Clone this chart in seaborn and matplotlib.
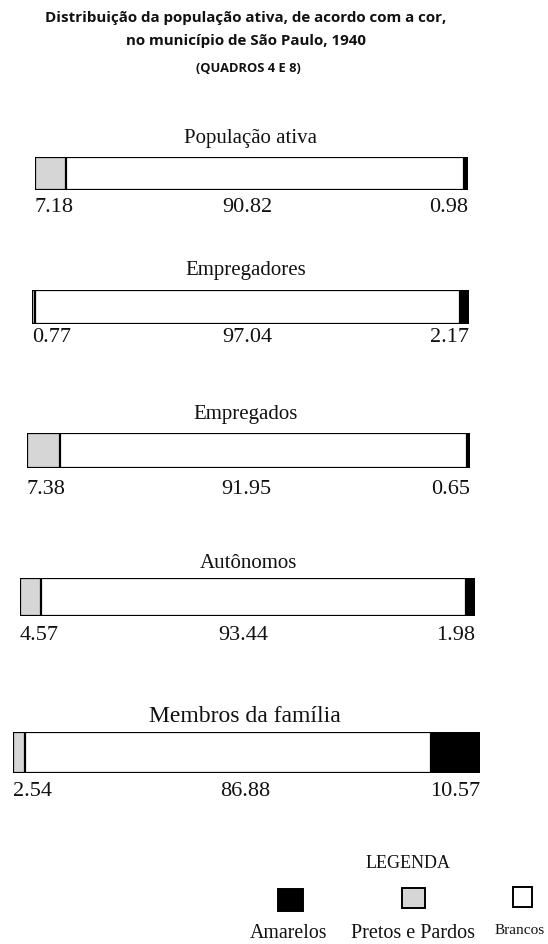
import matplotlib
matplotlib.use("Agg")
import matplotlib.pyplot as plt
import seaborn as sns
import pandas as pd
from matplotlib.patches import Rectangle

sns.set_theme(style="white")
plt.rcParams['font.family'] = ['Liberation Serif', 'DejaVu Serif']

# ---- data ----
categorias = ["População ativa", "Empregadores", "Empregados", "Autônomos", "Membros da família"]
pretos_pardos = [7.18, 0.77, 7.38, 4.57, 2.54]
brancos = [90.82, 97.04, 91.95, 93.44, 86.88]
amarelos = [0.98, 2.17, 0.65, 1.98, 10.57]
legenda = ["Amarelos", "Pretos e Pardos", "Brancos"]

W, H = 548, 944
fig = plt.figure(figsize=(W / 100, H / 100), dpi=100)
fig.patch.set_facecolor("white")

def px_rect(x0, y0, x1, y1):
    return [x0 / W, 1 - y1 / H, (x1 - x0) / W, (y1 - y0) / H]

# bar boxes in pixels (x0, y0, x1, y1)
boxes = [(35, 157, 468, 190), (32, 290, 469, 324), (27, 433, 470, 468),
         (20, 578, 475, 616), (13, 732, 480, 773)]
title_y = [138, 270, 415, 564, 716]
title_x = [250, 246, 246, 248, 245]
title_fs = [15, 15, 15, 15, 17]
val_y = [207, 338, 489, 635, 791]
mid_x = [247, 247, 246, 243, 245]

GRAY = "#d6d6d6"
TXT = "#111111"

for i, cat in enumerate(categorias):
    x0, y0, x1, y1 = boxes[i]
    ax = fig.add_axes(px_rect(x0, y0, x1, y1))
    total = pretos_pardos[i] + brancos[i] + amarelos[i]
    layers = [
        (total, "black"),
        (pretos_pardos[i] + brancos[i], "white"),
        (pretos_pardos[i], GRAY),
    ]
    for val, col in layers:
        df = pd.DataFrame({"cat": [cat], "valor": [val]})
        sns.barplot(data=df, x="valor", y="cat", orient="h", color=col,
                    edgecolor="black", linewidth=1.6, width=1.0, ax=ax,
                    saturation=1)
    ax.set_xlim(0, total)
    ax.set_ylim(0.5, -0.5)
    ax.axis("off")
    # labels
    fig.text(title_x[i] / W, 1 - title_y[i] / H, cat, ha="center", va="center",
             fontsize=title_fs[i], color=TXT)
    fig.text(x0 / W, 1 - val_y[i] / H, f"{pretos_pardos[i]:.2f}", ha="left",
             va="center", fontsize=16, color=TXT)
    fig.text(mid_x[i] / W, 1 - val_y[i] / H, f"{brancos[i]:.2f}", ha="center",
             va="center", fontsize=16, color=TXT)
    fig.text(x1 / W, 1 - val_y[i] / H, f"{amarelos[i]:.2f}", ha="right",
             va="center", fontsize=16, color=TXT)

# title
tfont = dict(family=["Open Sans", "DejaVu Sans"], fontweight="bold", color=TXT)
fig.text(246 / W, 1 - 18 / H, "Distribuição da população ativa, de acordo com a cor,",
         ha="center", va="center", fontsize=10.9, **tfont)
fig.text(246 / W, 1 - 41 / H, "no município de São Paulo, 1940",
         ha="center", va="center", fontsize=10.9, **tfont)
fig.text(248 / W, 1 - 69 / H, "(QUADROS 4 E 8)",
         ha="center", va="center", fontsize=9.3, **tfont)

# legend
fig.text(408 / W, 1 - 864 / H, "LEGENDA", ha="center", va="center",
         fontsize=13, color=TXT)
leg_ax = fig.add_axes([0, 0, 1, 1], facecolor="none")
leg_ax.set_xlim(0, W)
leg_ax.set_ylim(H, 0)
leg_ax.axis("off")
sq = [(278, 889, 25, 22, "black"), (402, 888, 23, 20, GRAY), (513, 887, 19, 20, "white")]
for (x, y, w, h, col) in sq:
    leg_ax.add_patch(Rectangle((x, y), w, h, facecolor=col,
                               edgecolor="black", linewidth=1.4))
fig.text(289 / W, 1 - 933 / H, legenda[0], ha="center", va="center",
         fontsize=14.3, color=TXT)
fig.text(413 / W, 1 - 933 / H, legenda[1], ha="center", va="center",
         fontsize=14.5, color=TXT)
fig.text(520 / W, 1 - 931 / H, legenda[2], ha="center", va="center",
         fontsize=11, color=TXT)

fig.savefig("out.png", dpi=100, facecolor="white")
